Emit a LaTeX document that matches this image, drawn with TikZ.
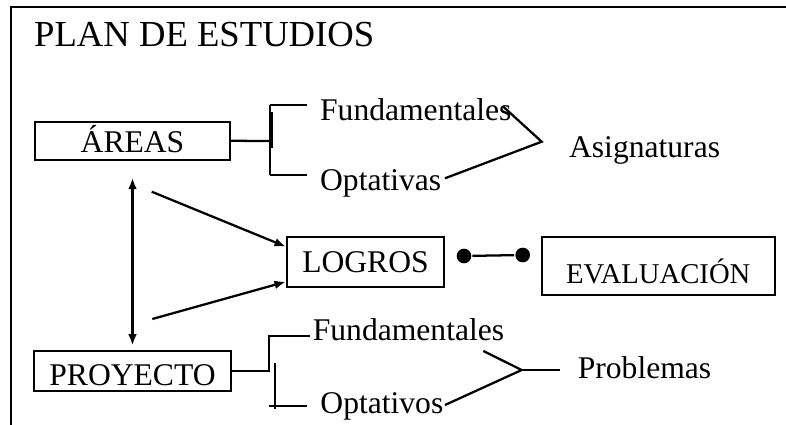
\documentclass[tikz,border=0pt]{standalone}
\usepackage{fontspec}
\setmainfont{Liberation Serif}
\usepackage{tikz}
\usetikzlibrary{arrows.meta}
\newcommand{\txtsize}{\fontsize{23.7pt}{28pt}\selectfont}

\begin{document}
\begin{tikzpicture}[x=0.75pt, y=-0.75pt, line width=1.7pt,
    box/.style={draw, inner sep=0pt, text depth=0pt, font=\txtsize},
    lbl/.style={inner sep=0pt, anchor=base west, font=\txtsize},
    dot/.style={circle, fill, inner sep=0pt, minimum size=11pt},
    >={Latex[length=8.5pt, width=6.5pt]}]
  \useasboundingbox (0,0) rectangle (786,425);
  \draw[line width=1.2pt] (11,425) -- (11,7) -- (786,7);
  \node[lbl, font=\fontsize{27.5pt}{32pt}\selectfont] (title) at (33,46) {PLAN DE ESTUDIOS};

  % cajas
  \node[box, minimum width=146.3pt, minimum height=28.7pt, text height=17.9pt] (areas) at (132.5,140.8) {ÁREAS};
  \node[box, minimum width=147.8pt, minimum height=30pt, text height=21.5pt] (proyecto) at (132.5,370.7) {PROYECTO};
  \node[box, minimum width=117.8pt, minimum height=37.5pt, text height=16pt] (logros) at (365.5,262) {LOGROS};
  \node[box, minimum width=175pt, minimum height=43.5pt, text height=26pt,
    font=\fontsize{21.5pt}{26pt}\selectfont] (evaluacion) at (658.3,266) {EVALUACIÓN};

  % textos
  \node[lbl] (fundA) at (319,120.7) {Fundamentales};
  \node[lbl] (optA) at (319,190) {Optativas};
  \node[lbl] (asig) at (568,157.3) {Asignaturas};
  \node[lbl] (fundP) at (311.7,340.7) {Fundamentales};
  \node[lbl] (optP) at (319.3,413.3) {Optativos};
  \node[lbl] (prob) at (576.7,378.3) {Problemas};

  % llaves de areas
  \coordinate (aT) at (270,105);
  \coordinate (aM) at (270,141);
  \coordinate (aB) at (270,175);
  \draw (areas.east) -- (aM);
  \draw (aT) -- (aB);
  \draw (272,112) -- (272,148);
  \draw (aT) -- ++(37,0);
  \draw (aB) -- ++(37,0);
  \coordinate (fA) at (503.3,106.7);
  \coordinate (vA) at (541.7,141.7);
  \coordinate (oA) at (445,178.3);
  \draw (fA) -- (vA) -- (oA);

  % llaves de proyecto
  \coordinate (pM) at (269.3,370.7);
  \coordinate (pT) at (269.3,336);
  \draw (proyecto.east) -- (pM) -- (pT) -- (310,336);
  \coordinate (pB) at (269.3,406);
  \draw (275.3,362.7) -- (275.3,409.3);
  \draw (pB) -- ++(37.4,0);
  \coordinate (fP) at (483.3,351);
  \coordinate (vP) at (521.7,370);
  \coordinate (oP) at (445,405);
  \draw (fP) -- (vP) -- (oP);
  \draw (vP) -- (560,370);

  % flechas
  \coordinate (s1) at (151.7,191.7);
  \coordinate (s2) at (152.3,319);
  \draw[<->] ([yshift=-12.5pt]areas.south) -- ([yshift=3pt]proyecto.north);
  \draw[->] (s1) -- ([yshift=11.5pt]logros.west);
  \draw[->] (s2) -- ([yshift=-14.8pt]logros.west);

  % logros -- evaluacion
  \node[dot] (d1) at (464,256) {};
  \node[dot] (d2) at (522.7,255) {};
  \draw (d1) -- (d2);
\end{tikzpicture}
\end{document}
